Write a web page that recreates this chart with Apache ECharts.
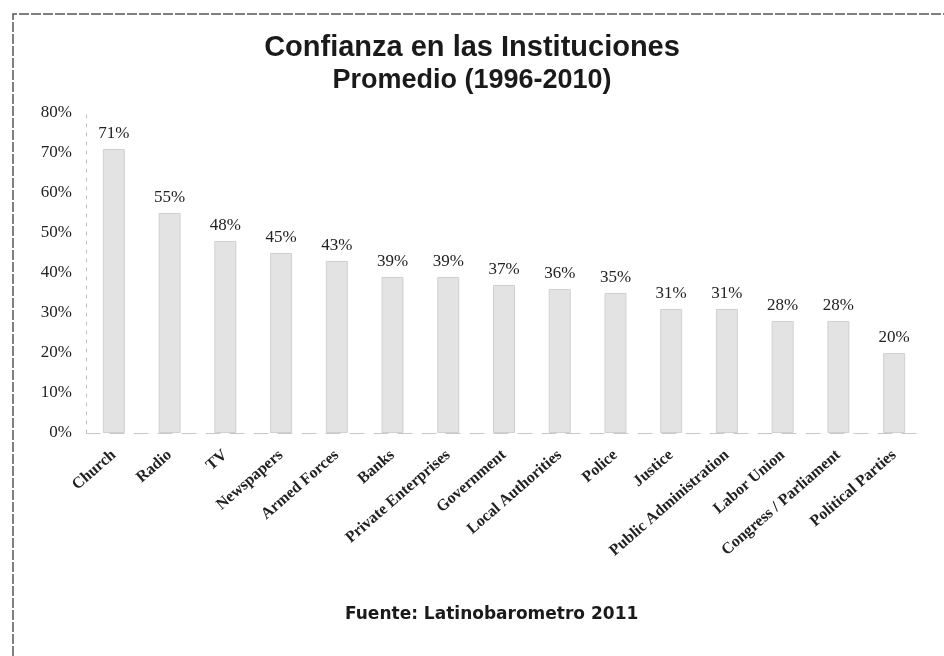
<!DOCTYPE html>
<html>
<head>
<meta charset="utf-8">
<script src="https://cdn.jsdelivr.net/npm/echarts@6/dist/echarts.min.js"></script>
<style>
  html, body { margin: 0; padding: 0; background: #fff; }
  #main { width: 944px; height: 656px; }
</style>
</head>
<body>
<div id="main"></div>
<script>
const categories = [
  "Church", "Radio", "TV", "Newspapers", "Armed Forces", "Banks",
  "Private Enterprises", "Government", "Local Authorities", "Police",
  "Justice", "Public Administration", "Labor Union",
  "Congress / Parliament", "Political Parties"
];
const confianza = [71, 55, 48, 45, 43, 39, 39, 37, 36, 35, 31, 31, 28, 28, 20];
const yTicks = [0, 10, 20, 30, 40, 50, 60, 70, 80];

let chartDom = document.getElementById("main");
let myChart = echarts.init(chartDom);
let option;

option = {
  animation: false,
  backgroundColor: "#ffffff",
  title: [
    {
      text: "Confianza en las Instituciones",
      left: "center",
      top: 33,
      padding: 0,
      textStyle: {
        fontFamily: "Liberation Sans",
        fontWeight: "bold",
        fontSize: 29,
        lineHeight: 29,
        color: "#1a1a1a",
      },
    },
    {
      text: "Promedio (1996-2010)",
      left: "center",
      top: 67,
      padding: 0,
      textStyle: {
        fontFamily: "Liberation Sans",
        fontWeight: "bold",
        fontSize: 27,
        lineHeight: 27,
        color: "#1a1a1a",
      },
    },
    {
      text: "Fuente: Latinobarometro 2011",
      left: 345,
      top: 606,
      padding: 0,
      textStyle: {
        fontFamily: "DejaVu Sans",
        fontWeight: "bold",
        fontSize: 17,
        lineHeight: 17,
        color: "#1a1a1a",
      },
    },
  ],
  grid: {
    left: 86,
    right: 22,
    top: 113,
    bottom: 223,
  },
  xAxis: {
    type: "category",
    data: categories,
    axisTick: { show: false },
    axisLine: {
      lineStyle: { color: "#c8c8c8", type: [14, 10], width: 1 },
    },
    axisLabel: {
      interval: 0,
      rotate: 41,
      margin: 20,
      fontFamily: "Liberation Serif",
      fontWeight: "bold",
      fontSize: 16,
      color: "#222",
    },
  },
  yAxis: {
    type: "value",
    min: yTicks[0],
    max: yTicks[yTicks.length - 1],
    interval: 10,
    splitLine: { show: false },
    axisTick: { show: false },
    axisLine: {
      show: true,
      lineStyle: { color: "#bdbdbd", type: [3, 6], width: 1 },
    },
    axisLabel: {
      formatter: "{value}%",
      margin: 14,
      fontFamily: "Liberation Serif",
      fontSize: 17,
      color: "#222",
    },
  },
  series: [
    {
      type: "bar",
      data: confianza,
      barWidth: 22,
      itemStyle: {
        color: "#e3e3e3",
        borderColor: "#d0d0d0",
        borderWidth: 1,
      },
      label: {
        show: true,
        position: "top",
        distance: 7,
        formatter: "{c}%",
        fontFamily: "Liberation Serif",
        fontSize: 17,
        color: "#222",
      },
    },
  ],
  graphic: [
    {
      type: "polyline",
      shape: { points: [[13, 656], [13, 14], [944, 14]] },
      style: { stroke: "#555", lineWidth: 1.5, fill: null, lineDash: [10, 2] },
    },
  ],
};

option && myChart.setOption(option);
</script>
</body>
</html>
